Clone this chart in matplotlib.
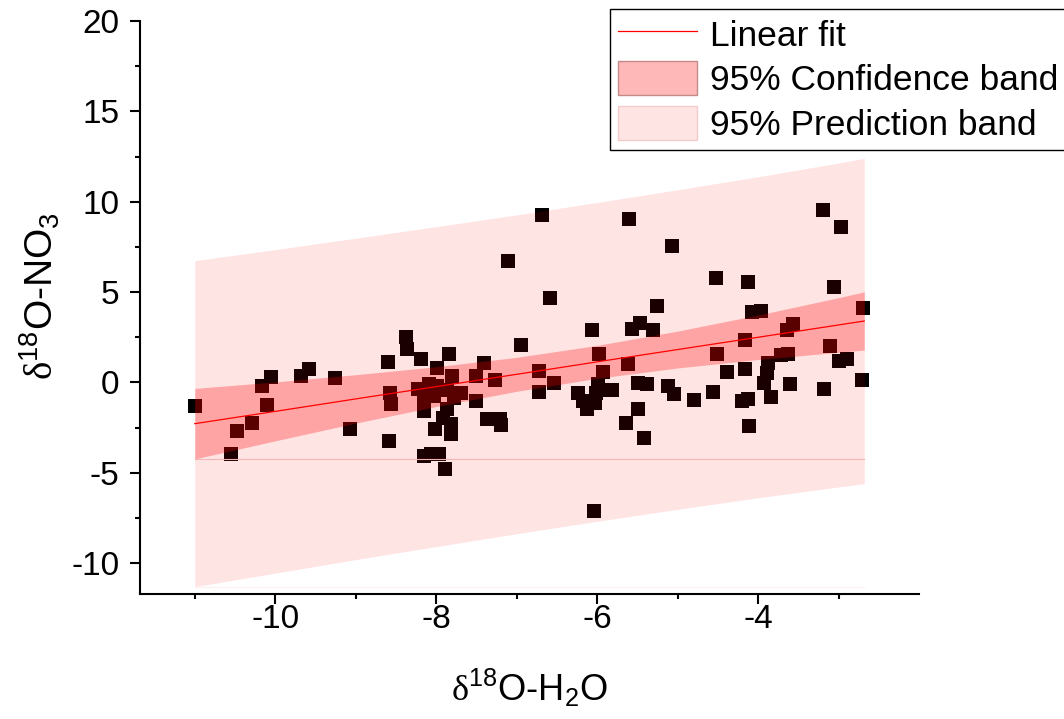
import matplotlib
matplotlib.use("Agg")
import matplotlib.pyplot as plt
from matplotlib.lines import Line2D
from matplotlib.patches import Patch
from matplotlib.ticker import FixedLocator

# ============================================================
# Data
# ============================================================

# d18O of water (x) and d18O of nitrate (y) for each sample
x_h2o = [
    -11.00, -10.55, -10.48, -10.29, -10.10, -10.16, -10.05, -9.68, -9.58, -9.26,
    -9.07, -8.60, -8.57, -8.56, -8.59, -8.37, -8.36, -8.19, -7.84, -7.99,
    -7.80, -8.23, -8.09, -7.99, -7.86, -7.69, -8.15, -8.03, -7.78, -7.51,
    -8.15, -7.86, -7.91, -7.82, -8.01, -7.82, -7.37, -7.21, -7.19, -8.15,
    -8.07, -7.97, -7.89, -7.51, -7.27, -7.40, -7.11, -6.94, -6.68, -6.58,
    -6.72, -6.72, -6.53, -6.06, -5.98, -5.93, -6.24, -6.18, -6.12, -6.03,
    -6.01, -5.99, -5.95, -6.04, -5.82, -5.61, -5.60, -5.57, -5.47, -5.30,
    -5.26, -5.49, -5.38, -5.49, -5.64, -5.42, -5.07, -5.12, -5.05, -4.79,
    -4.56, -4.51, -4.52, -4.38, -4.16, -4.16, -4.12, -4.20, -4.12, -4.11,
    -4.08, -3.96, -3.87, -3.89, -3.93, -3.84, -3.71, -3.63, -3.64, -3.56,
    -3.60, -3.19, -2.97, -3.06, -3.11, -3.18, -3.00, -2.89, -2.70, -2.71,
]
y_no3 = [
    -1.32, -3.95, -2.71, -2.27, -1.25, -0.20, 0.31, 0.35, 0.75, 0.24,
    -2.59, 1.14, -0.57, -1.17, -3.25, 2.49, 1.87, 1.30, 1.60, 0.80,
    0.35, -0.35, -0.11, -0.20, -0.39, -0.57, -0.84, -0.75, -0.84, -1.03,
    -1.58, -1.49, -1.94, -2.31, -2.59, -2.86, -2.00, -2.00, -2.35, -4.09,
    -3.95, -3.97, -4.79, 0.35, 0.13, 1.10, 6.74, 2.09, 9.24, 4.65,
    0.62, -0.51, -0.02, 2.92, 1.60, 0.60, -0.57, -1.03, -1.49, -1.12,
    -0.57, -0.11, -0.39, -7.10, -0.42, 1.00, 9.06, 2.97, 3.29, 2.92,
    4.24, -0.02, -0.07, -1.45, -2.26, -3.06, 7.55, -0.20, -0.62, -0.95,
    -0.55, 1.60, 5.77, 0.60, 0.72, 2.33, 5.54, -1.03, -0.93, -2.40,
    3.92, 3.96, 1.05, 0.55, -0.04, -0.80, 1.50, 1.58, 2.92, 3.23,
    -0.10, 9.52, 8.59, 5.26, 2.00, -0.37, 1.20, 1.28, 4.14, 0.14,
]

# Linear fit and the 95% bands, read at these x positions
band_x = [-11.0, -10.0, -9.0, -8.0, -7.0, -6.0, -5.0, -4.0, -3.0, -2.68]
fit_y = [-2.28, -1.60, -0.91, -0.23, 0.45, 1.14, 1.82, 2.50, 3.18, 3.40]
conf_low = [-4.23, -3.23, -2.25, -1.33, -0.49, 0.23, 0.80, 1.27, 1.67, 1.79]
conf_high = [-0.33, 0.03, 0.43, 0.87, 1.39, 2.05, 2.84, 3.73, 4.69, 5.01]
pred_low = [-11.30, -10.55, -9.80, -9.08, -8.37, -7.68, -7.02, -6.38, -5.78, -5.60]
pred_high = [6.74, 7.35, 7.98, 8.62, 9.27, 9.96, 10.66, 11.38, 12.14, 12.40]

x_major = [-10, -8, -6, -4]
x_minor = [-11, -9, -7, -5, -3]
y_major = [-10, -5, 0, 5, 10, 15, 20]
y_minor = [-7.5, -2.5, 2.5, 7.5, 12.5, 17.5]

# ============================================================
# Style
# ============================================================

plt.rcParams["font.family"] = ["Liberation Sans", "DejaVu Sans"]
plt.rcParams["mathtext.fontset"] = "custom"
plt.rcParams["mathtext.rm"] = "Liberation Serif"
plt.rcParams["mathtext.default"] = "regular"
plt.rcParams["axes.unicode_minus"] = False

PRED_ALPHA = 0.105
CONF_ALPHA = 0.28

fig = plt.figure(figsize=(10.64, 7.19), dpi=100)
ax = fig.add_axes([0.1316, 0.1739, 0.7321, 0.7970])

# ============================================================
# Plot
# ============================================================

ax.plot(x_h2o, y_no3, linestyle="none", marker="s", markersize=9.6,
        color="black", markeredgewidth=0, zorder=1)

ax.fill_between(band_x, pred_low, pred_high, color="red",
                alpha=PRED_ALPHA, linewidth=0, zorder=2)
ax.fill_between(band_x, conf_low, conf_high, color="red",
                alpha=CONF_ALPHA, linewidth=0, zorder=3)

# thin baseline artefacts of the band fills
ax.plot([band_x[0], band_x[-1]], [conf_low[0], conf_low[0]],
        color="#f2b4b4", linewidth=0.8, zorder=3)
ax.plot([band_x[0], band_x[-1]], [pred_low[0], pred_low[0]],
        color="#fff0f0", linewidth=0.8, zorder=3)

ax.plot(band_x, fit_y, color="red", linewidth=0.9, zorder=4)

ax.set_xlim(-11.68, -2.0)
ax.set_ylim(-11.7, 20)

ax.xaxis.set_major_locator(FixedLocator(x_major))
ax.xaxis.set_minor_locator(FixedLocator(x_minor))
ax.yaxis.set_major_locator(FixedLocator(y_major))
ax.yaxis.set_minor_locator(FixedLocator(y_minor))

for side in ["top", "right"]:
    ax.spines[side].set_visible(False)
for side in ["left", "bottom"]:
    ax.spines[side].set_linewidth(1.5)

ax.tick_params(which="major", direction="out", length=7, width=1.5,
               labelsize=24)
ax.tick_params(which="minor", direction="out", length=3.6, width=1.5)
ax.tick_params(axis="y", which="major", pad=8)
ax.tick_params(axis="x", which="major", pad=0)

ax.set_xlabel(r"$\mathrm{\delta}^{18}$O-H$_2$O", fontsize=26, labelpad=23)
ax.set_ylabel(r"$\mathrm{\delta}^{18}$O-NO$_3$", fontsize=28, labelpad=0)
ax.yaxis.set_label_coords(-0.10, 0.52)

handles = [
    Line2D([], [], color="red", linewidth=0.9),
    Patch(facecolor="#ffb8b8", edgecolor="#c48a8a", linewidth=1),
    Patch(facecolor="#ffe4e4", edgecolor="#f2cccc", linewidth=1),
]
labels = ["Linear fit", "95% Confidence band", "95% Prediction band"]

leg = fig.legend(handles, labels, loc="upper left",
                 bbox_to_anchor=(610 / 1064, 1 - 9 / 719),
                 bbox_transform=fig.transFigure, borderaxespad=0,
                 fontsize=25.5, frameon=True, fancybox=False,
                 edgecolor="black", framealpha=1, borderpad=0.22,
                 handlelength=2.25, handleheight=1.1, handletextpad=0.35,
                 labelspacing=0.24)
leg.get_frame().set_linewidth(1.0)

fig.savefig("out.png", dpi=100)
